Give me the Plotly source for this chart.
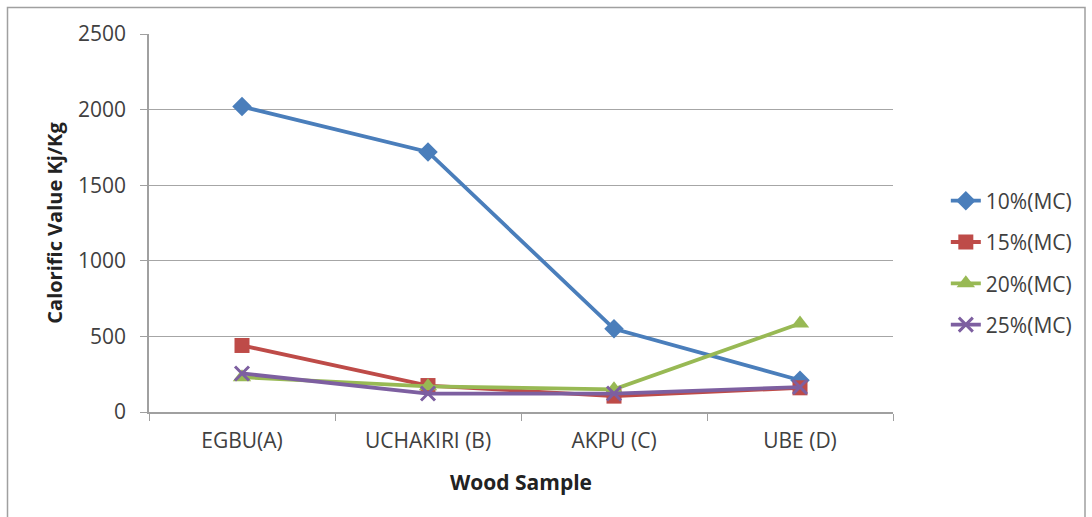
import plotly.graph_objects as go

categories = ["EGBU(A)", "UCHAKIRI (B)", "AKPU (C)", "UBE (D)"]
mc10 = [2020, 1720, 550, 210]
mc15 = [440, 175, 105, 160]
mc20 = [230, 170, 150, 585]
mc25 = [255, 122, 122, 165]

series = [
    ("10%(MC)", mc10, "#4a7ebb", "diamond", 15),
    ("15%(MC)", mc15, "#be4b48", "square", 15),
    ("20%(MC)", mc20, "#98b954", "triangle-up", 16),
    ("25%(MC)", mc25, "#7d5fa0", "x-thin", 14),
]

fig = go.Figure()
for name, vals, color, sym, size in series:
    fig.add_trace(go.Scatter(
        x=categories, y=vals, name=name, legendgroup=name, mode="lines+markers",
        line=dict(color=color, width=3.8),
        marker=dict(symbol=sym, size=size, color=color,
                    line=dict(color=color, width=3 if sym == "x-thin" else 0)),
    ))

FONT = "Open Sans, Lato, sans-serif"
fig.update_layout(
    width=1092, height=517,
    margin=dict(l=149, r=199, t=34, b=105),
    paper_bgcolor="white", plot_bgcolor="white",
    font=dict(family=FONT, size=21, color="#404040"),
    showlegend=True,
    legend=dict(x=1.071, y=0.394, xanchor="left", yanchor="middle",
                font=dict(size=21, color="#404040"), tracegroupgap=11,
                bgcolor="rgba(0,0,0,0)"),
    xaxis=dict(
        title=dict(text="<b>Wood Sample</b>", font=dict(size=21, color="#222"), standoff=22),
        showline=True, linecolor="#a0a0a0", linewidth=1.5,
        ticks="outside", tickson="boundaries", ticklen=7, tickcolor="#a0a0a0",
        ticklabelstandoff=9,
        showgrid=False, range=[-0.5, 3.5],
    ),
    yaxis=dict(
        title=dict(text="<b>Calorific Value Kj/Kg</b>", font=dict(size=20, color="#222"), standoff=10),
        range=[0, 2500], dtick=500,
        showline=True, linecolor="#a0a0a0", linewidth=1.5,
        ticks="outside", ticklen=7, tickcolor="#a0a0a0",
        ticklabelstandoff=10,
        showgrid=True, gridcolor="#a6a6a6", gridwidth=1, zeroline=False,
    ),
    shapes=[dict(type="rect", xref="paper", yref="paper",
                 x0=-141.5/744, x1=1.0 + 192/744, y0=-125/378, y1=1 + 26.5/378,
                 line=dict(color="#a0a0a0", width=1.5), fillcolor="rgba(0,0,0,0)")],
)

fig.write_html("out.html", config={"displayModeBar": False},
               post_script="document.body.style.margin='0';")
